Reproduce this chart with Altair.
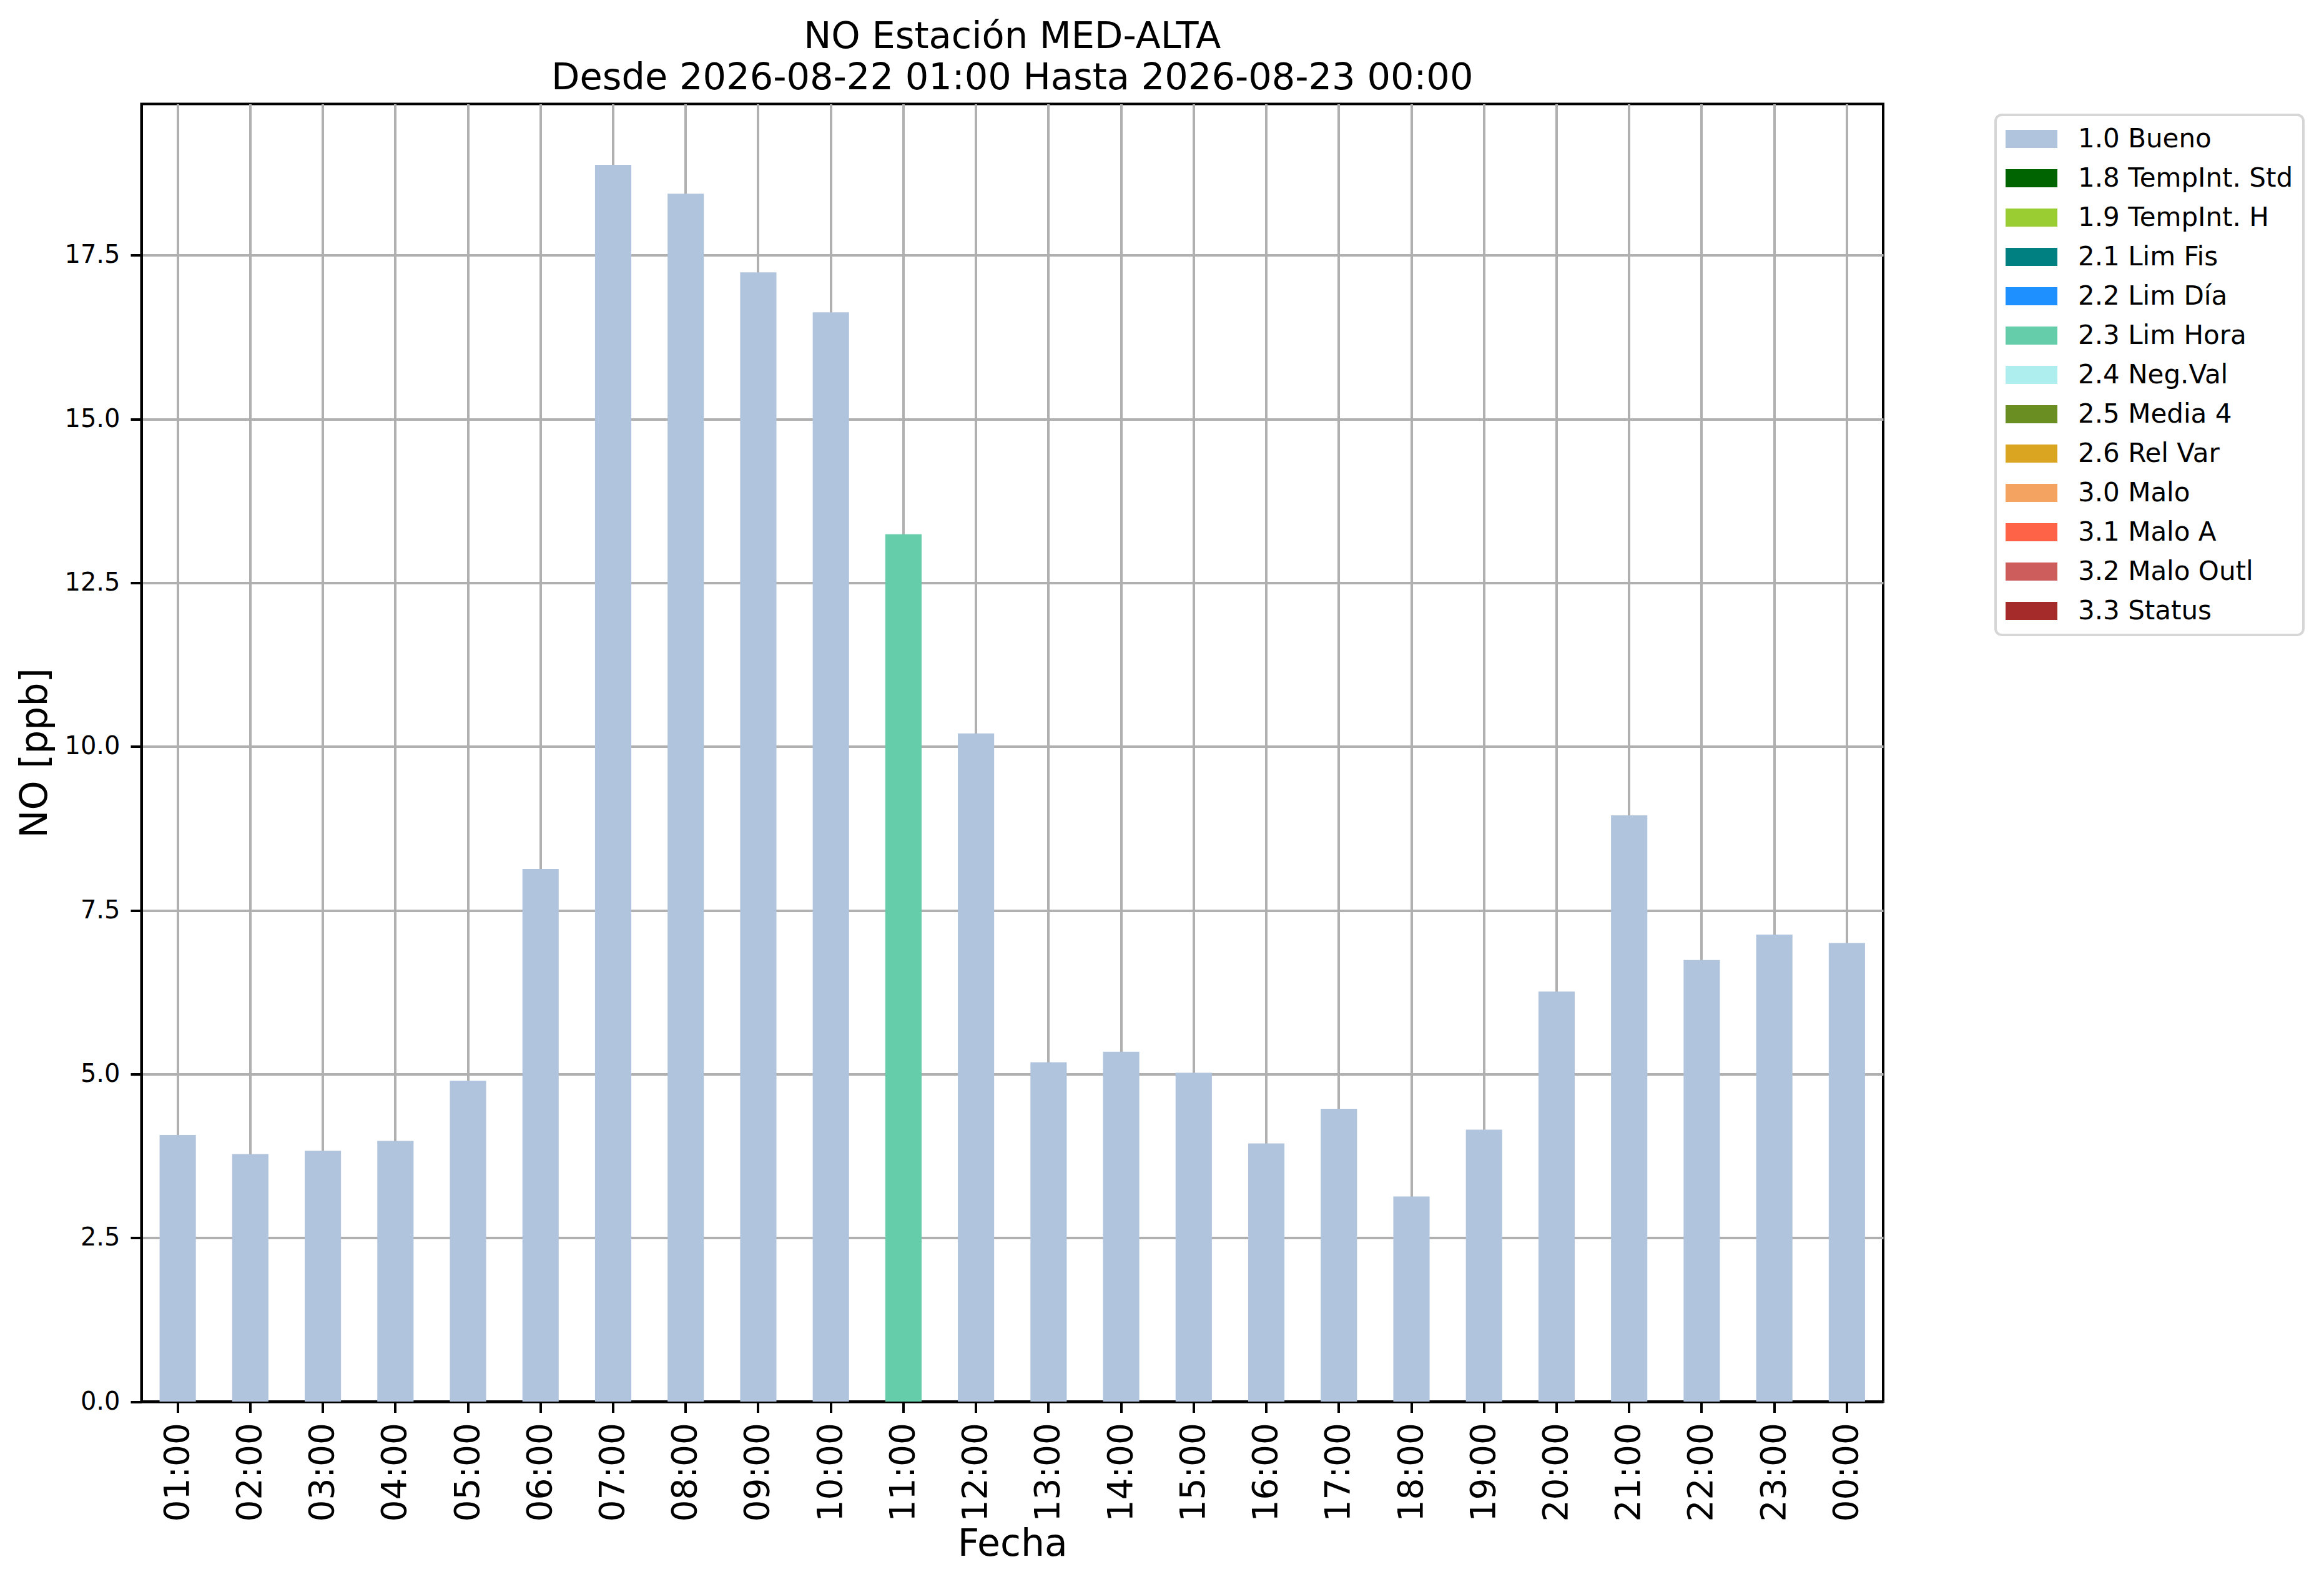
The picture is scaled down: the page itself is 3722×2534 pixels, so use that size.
import altair as alt
import pandas as pd

# ---- data ----
hours = ["01:00", "02:00", "03:00", "04:00", "05:00", "06:00", "07:00", "08:00",
         "09:00", "10:00", "11:00", "12:00", "13:00", "14:00", "15:00", "16:00",
         "17:00", "18:00", "19:00", "20:00", "21:00", "22:00", "23:00", "00:00"]

values = [4.07, 3.78, 3.83, 3.98, 4.90, 8.13, 18.88, 18.44, 17.24, 16.63, 13.24, 10.20,
          5.18, 5.34, 5.02, 3.94, 4.47, 3.13, 4.15, 6.26, 8.95, 6.74, 7.13, 7.00]

flags = ["1.0 Bueno", "1.0 Bueno", "1.0 Bueno", "1.0 Bueno", "1.0 Bueno", "1.0 Bueno",
         "1.0 Bueno", "1.0 Bueno", "1.0 Bueno", "1.0 Bueno", "2.3 Lim Hora", "1.0 Bueno",
         "1.0 Bueno", "1.0 Bueno", "1.0 Bueno", "1.0 Bueno", "1.0 Bueno", "1.0 Bueno",
         "1.0 Bueno", "1.0 Bueno", "1.0 Bueno", "1.0 Bueno", "1.0 Bueno", "1.0 Bueno"]

flag_names = ["1.0 Bueno", "1.8 TempInt. Std", "1.9 TempInt. H", "2.1 Lim Fis",
              "2.2 Lim Día", "2.3 Lim Hora", "2.4 Neg.Val", "2.5 Media 4",
              "2.6 Rel Var", "3.0 Malo", "3.1 Malo A", "3.2 Malo Outl", "3.3 Status"]
flag_colors = ["#b0c4de", "#006400", "#9acd32", "#008080", "#1e90ff", "#66cdaa",
               "#afeeee", "#6b8e23", "#daa520", "#f4a460", "#ff6347", "#cd5c5c", "#a52a2a"]

y_ticks = [0, 2.5, 5, 7.5, 10, 12.5, 15, 17.5]

title_lines = ["NO Estación MED-ALTA", "Desde 2026-08-22 01:00 Hasta 2026-08-23 00:00"]

df = pd.DataFrame({"Hora": hours, "NO": values, "Flag": flags})

FONT = "DejaVu Sans"
W = 2789.5
H = 2078.5

chart = alt.Chart(df).mark_bar().encode(
    x=alt.X(
        "Hora:N",
        sort=hours,
        scale=alt.Scale(paddingInner=0.5, paddingOuter=0.25),
        axis=alt.Axis(
            title="Fecha",
            bandPosition=0.5,
            labelAngle=270,
            labelFontSize=55,
            labelPadding=16,
            labelOverlap=False,
            tickSize=17.5,
            titleFontSize=60,
            titleBaseline="alphabetic",
            titleY=246.7,
        ),
    ),
    y=alt.Y(
        "NO:Q",
        scale=alt.Scale(domain=[0, 19.81], nice=False, zero=True),
        axis=alt.Axis(
            title="NO [ppb]",
            values=y_ticks,
            format=".1f",
            labelFontSize=40,
            labelPadding=17,
            tickSize=17.5,
            titleFontSize=60,
            titleAngle=270,
            titleBaseline="alphabetic",
            titleAlign="center",
            titleX=-152.5,
            titleY=H / 2,
        ),
    ),
    color=alt.Color(
        "Flag:N",
        scale=alt.Scale(domain=flag_names, range=flag_colors),
        legend=alt.Legend(
            title=None,
            orient="none",
            legendX=2969.5,
            legendY=17.5,
            fillColor="white",
            strokeColor="#d6d6d6",
            cornerRadius=10,
            padding=16,
            labelFont=FONT,
            labelFontSize=42,
            labelColor="black",
            labelOffset=33,
            labelLimit=700,
            symbolType="M-1,-0.35H1V0.35H-1Z",
            symbolSize=6889,
            symbolStrokeWidth=0,
            symbolOpacity=1,
            clipHeight=45,
            rowPadding=18,
        ),
    ),
).properties(
    width=W,
    height=H,
    title=alt.TitleParams(
        text=title_lines,
        font=FONT,
        fontSize=59,
        fontWeight="normal",
        color="black",
        anchor="middle",
        lineHeight=66,
        baseline="alphabetic",
        offset=90.5,
        dy=126,
    ),
    padding={"left": 218.5, "top": 158.5, "right": 690, "bottom": 275},
    autosize=alt.AutoSizeParams(type="none"),
).configure_view(
    stroke="black",
    strokeWidth=4,
).configure_legend(
    strokeWidth=4,
).configure_axis(
    labelFont=FONT,
    titleFont=FONT,
    labelColor="black",
    titleColor="black",
    titleFontWeight="normal",
    domainColor="black",
    domainWidth=4,
    tickColor="black",
    tickWidth=4,
    grid=True,
    gridColor="#b0b0b0",
    gridWidth=4,
    zindex=1,
)

chart.save("out.html", embed_options={"renderer": "svg", "actions": False})
